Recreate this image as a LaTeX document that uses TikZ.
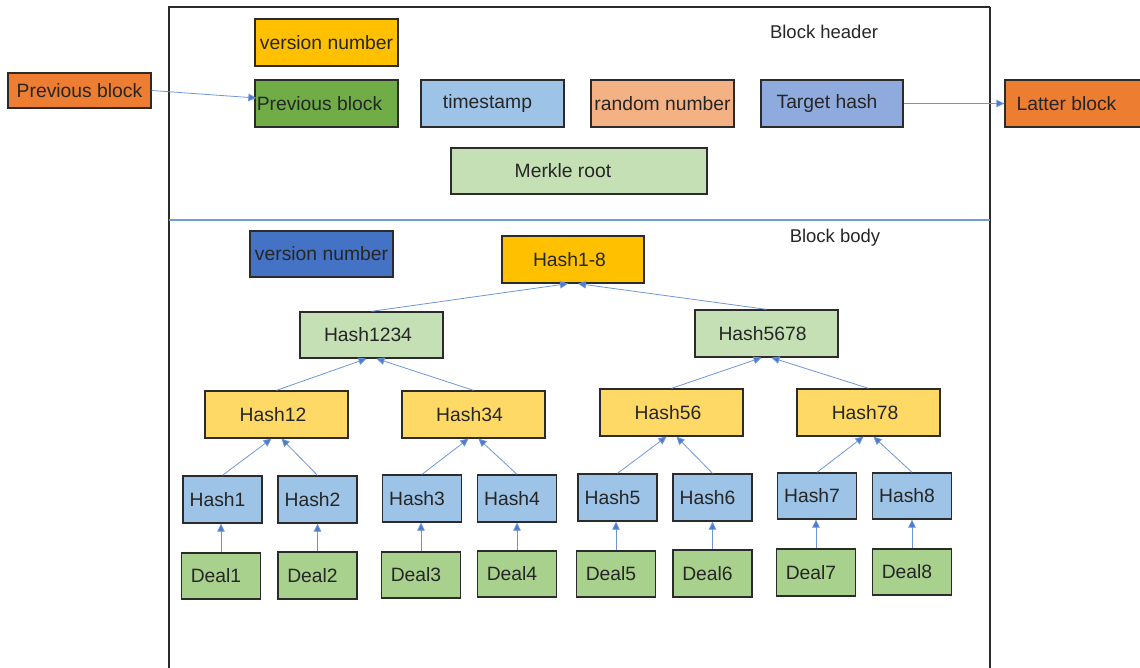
\documentclass[tikz,border=0pt]{standalone}
\usepackage{fontspec}
\setmainfont{Liberation Sans}
\usetikzlibrary{arrows.meta}
\definecolor{txt}{HTML}{262626}
\definecolor{bord}{HTML}{2B2B2B}
\definecolor{corange}{HTML}{ED7D31}
\definecolor{cgold}{HTML}{FFC000}
\definecolor{cgreen}{HTML}{70AD47}
\definecolor{clblue}{HTML}{9DC3E6}
\definecolor{cpeach}{HTML}{F4B183}
\definecolor{ctblue}{HTML}{8FAADC}
\definecolor{clgreen}{HTML}{C5E0B4}
\definecolor{cblue}{HTML}{4472C4}
\definecolor{cyellow}{HTML}{FFD966}
\definecolor{cdeal}{HTML}{A9D18E}
\definecolor{cline}{HTML}{6F9BDB}
\definecolor{carrow}{HTML}{4A7BD0}
\newcommand{\sh}[2]{#2\kern#1pt}
\tikzset{
  box/.style={draw=bord, line width=1.3pt, inner sep=0pt, text=txt,
    font=\fontsize{19.3}{21}\selectfont, minimum width=143pt, minimum height=47pt},
  small/.style={box, minimum width=79pt},
  conn/.style={draw=carrow!80, line width=0.8pt,
    -{Triangle[length=8pt,width=7.5pt,fill=carrow]}},
  lbl/.style={text=txt, font=\fontsize{18.5}{20}\selectfont, inner sep=0pt}
}
\begin{document}
\begin{tikzpicture}[x=1pt,y=-1pt]
\useasboundingbox (0,0) rectangle (1140,668);
% frame
\draw[bord, line width=2pt] (169,670) -- (169,7) -- (990,7);
\draw[bord, line width=1.5pt] (990,7) -- (990,670);
\draw[cline, line width=1.2pt] (169,220) -- (990,220);
% header
\node[lbl] (bh) at (824,32) {Block header};
\node[box, fill=corange] (prevL) at (79.5,90.5) [minimum height=35pt] {Previous block};
\node[box, fill=cgold] (ver1) at (326.5,42.5) {version number};
\node[box, fill=cgreen] (prevG) at (326.5,103.5) {\sh{14}{Previous block}};
\node[box, fill=clblue] (ts) at (492.5,103.5) {\sh{10}{timestamp}};
\node[box, fill=cpeach] (rn) at (662.5,103.5) {random number};
\node[box, fill=ctblue] (th) at (832,103.5) [minimum width=142pt] {\sh{10}{Target hash}};
\node[box, fill=corange] (lat) at (1073.5,103.5) [minimum width=137pt] {\sh{14}{Latter block}};
\node[box, fill=clgreen] (mr) at (579,171) [minimum width=256pt, minimum height=46pt] {\sh{32}{Merkle root}};
\draw[conn] (prevL.east) -- ([xshift=2pt,yshift=5.5pt]prevG.west);
\draw[conn] (th.east) -- (lat.west);
% body
\node[lbl] (bb) at (835,238) {Block body};
\node[box, fill=cblue] (ver2) at (321.5,254) [minimum height=46pt] {version number};
\node[box, fill=cgold] (h18) at (573,259.5) [minimum width=142pt] {\sh{7}{Hash1-8}};
\node[box, fill=clgreen] (h1234) at (371.5,335) [minimum height=46pt] {\sh{7}{Hash1234}};
\node[box, fill=clgreen] (h5678) at (766.5,333.5) {\sh{8}{Hash5678}};
\node[box, fill=cyellow] (h12) at (276.5,414.5) {\sh{7}{Hash12}};
\node[box, fill=cyellow] (h34) at (473.5,414.5) {\sh{8}{Hash34}};
\node[box, fill=cyellow] (h56) at (671.5,412.5) {\sh{7}{Hash56}};
\node[box, fill=cyellow] (h78) at (868.5,412.5) {\sh{7}{Hash78}};
\node[small, fill=clblue] (a1) at (222.5,499.5) {\sh{10}{Hash1}};
\node[small, fill=clblue] (a2) at (317.5,499.5) {\sh{10}{Hash2}};
\node[small, fill=clblue] (a3) at (422,498.5) {\sh{10}{Hash3}};
\node[small, fill=clblue] (a4) at (517,498.5) {\sh{10}{Hash4}};
\node[small, fill=clblue] (a5) at (617.5,497.5) {\sh{10}{Hash5}};
\node[small, fill=clblue] (a6) at (712.5,497.5) {\sh{10}{Hash6}};
\node[small, fill=clblue] (a7) at (817,496) [minimum height=46pt] {\sh{10}{Hash7}};
\node[small, fill=clblue] (a8) at (912,496) [minimum height=46pt] {\sh{10}{Hash8}};
\node[small, fill=cdeal] (d1) at (221,576) [minimum height=46pt] {\sh{10}{Deal1}};
\node[small, fill=cdeal] (d2) at (317.5,575.5) {\sh{10}{Deal2}};
\node[small, fill=cdeal] (d3) at (421,575) [minimum height=46pt] {\sh{10}{Deal3}};
\node[small, fill=cdeal] (d4) at (517,574) [minimum height=46pt] {\sh{10}{Deal4}};
\node[small, fill=cdeal] (d5) at (616,574) [minimum height=46pt] {\sh{10}{Deal5}};
\node[small, fill=cdeal] (d6) at (712.5,573.5) {\sh{10}{Deal6}};
\node[small, fill=cdeal] (d7) at (816,572.5) {\sh{10}{Deal7}};
\node[small, fill=cdeal] (d8) at (912,572) [minimum height=46pt] {\sh{10}{Deal8}};
% tree connectors
\foreach \c/\p in {h1234/h18, h12/h1234, h56/h5678, a1/h12, a3/h34, a5/h56, a7/h78}
  \draw[conn] (\c.north) -- ([xshift=-5pt]\p.south);
\foreach \c/\p in {h5678/h18, h34/h1234, h78/h5678, a2/h12, a4/h34, a6/h56, a8/h78}
  \draw[conn] (\c.north) -- ([xshift=5pt]\p.south);
\foreach \d/\h in {d1/a1, d2/a2, d3/a3, d4/a4, d5/a5, d6/a6, d7/a7, d8/a8}
  \draw[conn] (\d.north) -- (\d.north |- \h.south);
\end{tikzpicture}
\end{document}
